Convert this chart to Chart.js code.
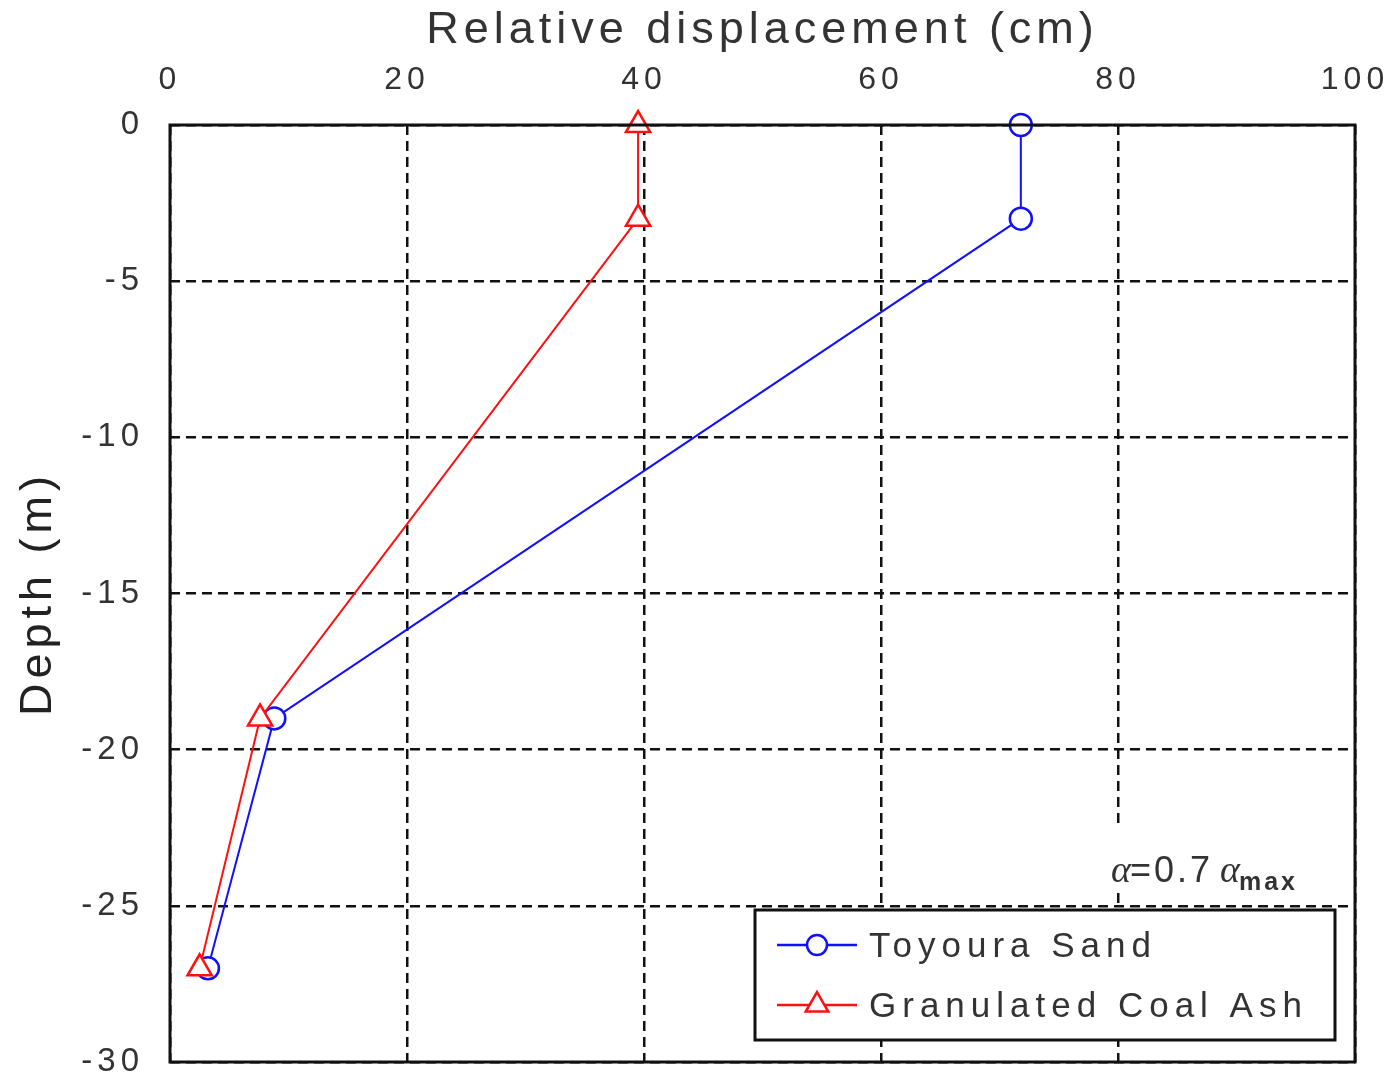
<!DOCTYPE html>
<html>
<head>
<meta charset="utf-8">
<script src="https://cdn.jsdelivr.net/npm/chart.js@4.4.1/dist/chart.umd.min.js"></script>
<style>
  html, body { margin: 0; padding: 0; background: #fff; }
  #chart { display: block; }
</style>
</head>
<body>
<canvas id="chart" width="1387" height="1084"></canvas>
<script>
// depth (m) of each measuring point
const depths = [0, -3, -19, -27];
// relative displacement (cm)
const toyouraSand = [71.8, 71.8, 8.8, 3.2];
const coalAsh = [39.5, 39.5, 7.6, 2.5];

const xTicks = [0, 20, 40, 60, 80, 100];
const yTicks = [0, -5, -10, -15, -20, -25, -30];

const toPoints = (xs) => xs.map((x, i) => ({ x: x, y: depths[i] }));

const seriesStyle = [
  { label: 'Toyoura Sand', color: '#1010ff', pointStyle: 'circle', radius: 11 },
  { label: 'Granulated Coal Ash', color: '#ff1010', pointStyle: 'triangle', radius: 14 }
];

// draws the frame, the alpha note and the boxed legend
const framePlugin = {
  id: 'frame',
  beforeDraw(chart) {
    chart.ctx.letterSpacing = '5px';
  },
  afterDraw(chart) {
    const ctx = chart.ctx;
    const a = chart.chartArea;
    ctx.save();

    // alpha note
    ctx.letterSpacing = '3px';
    ctx.fillStyle = '#fff';
    ctx.fillRect(a.right - 250, a.bottom - 235, 240, 60);
    ctx.fillStyle = '#333';
    ctx.textBaseline = 'alphabetic';
    ctx.textAlign = 'left';
    let tx = a.right - 244;
    const ty = a.bottom - 180;
    ctx.font = 'italic 38px "Liberation Serif"';
    ctx.fillText('α', tx, ty);
    tx += ctx.measureText('α').width - 4;
    ctx.font = '36px "Liberation Sans"';
    ctx.fillText('=0.7 ', tx, ty);
    tx += ctx.measureText('=0.7 ').width - 6;
    ctx.font = 'italic 38px "Liberation Serif"';
    ctx.fillText('α', tx, ty);
    tx += ctx.measureText('α').width - 4;
    ctx.font = 'bold 25px "Liberation Sans"';
    ctx.letterSpacing = '3px';
    ctx.fillText('max', tx, ty + 8);

    // legend box
    const lx = a.left + 585, ly = a.bottom - 152, lw = 580, lh = 130;
    ctx.fillStyle = '#fff';
    ctx.fillRect(lx, ly, lw, lh);
    ctx.lineWidth = 3;
    ctx.strokeStyle = '#111';
    ctx.setLineDash([]);
    ctx.strokeRect(lx, ly, lw, lh);

    ctx.letterSpacing = '6px';
    ctx.font = '35px "Liberation Sans"';
    ctx.textBaseline = 'middle';
    seriesStyle.forEach((s, i) => {
      const y = ly + 35 + i * 60;
      ctx.strokeStyle = s.color;
      ctx.lineWidth = 2.5;
      ctx.beginPath();
      ctx.moveTo(lx + 22, y);
      ctx.lineTo(lx + 102, y);
      ctx.stroke();
      ctx.fillStyle = '#fff';
      ctx.lineWidth = 2.5;
      Chart.helpers.drawPoint(ctx, { pointStyle: s.pointStyle, radius: s.radius - 1, rotation: 0, borderWidth: 2.5 }, lx + 62, y);
      ctx.fillStyle = '#333';
      ctx.fillText(s.label, lx + 114, y + 2);
    });

    // plot frame
    ctx.strokeStyle = '#111';
    ctx.lineWidth = 3;
    ctx.strokeRect(a.left, a.top, a.right - a.left, a.bottom - a.top);
    ctx.restore();
  }
};

new Chart(document.getElementById('chart'), {
  type: 'scatter',
  data: {
    datasets: [
      {
        label: seriesStyle[0].label,
        data: toPoints(toyouraSand),
        showLine: true,
        borderColor: seriesStyle[0].color,
        backgroundColor: '#fff',
        borderWidth: 2,
        pointStyle: seriesStyle[0].pointStyle,
        pointRadius: seriesStyle[0].radius,
        pointBorderWidth: 2.5,
        pointBackgroundColor: '#fff',
        clip: false,
        order: 2
      },
      {
        label: seriesStyle[1].label,
        data: toPoints(coalAsh),
        showLine: true,
        borderColor: seriesStyle[1].color,
        backgroundColor: '#fff',
        borderWidth: 2,
        pointStyle: seriesStyle[1].pointStyle,
        pointRadius: seriesStyle[1].radius,
        pointBorderWidth: 2.5,
        pointBackgroundColor: '#fff',
        clip: false,
        order: 1
      }
    ]
  },
  options: {
    responsive: false,
    animation: false,
    layout: { padding: { left: 0, top: 0, right: 32, bottom: 22 } },
    plugins: {
      legend: { display: false },
      tooltip: { enabled: false }
    },
    scales: {
      x: {
        type: 'linear',
        position: 'top',
        min: 0,
        max: 100,
        afterBuildTicks: (scale) => { scale.ticks = xTicks.map(v => ({ value: v })); },
        afterFit: (scale) => {
          scale.height = 125;
          scale.paddingLeft = 0;
          scale.paddingRight = 0;
        },
        ticks: {
          padding: 26,
          color: '#333',
          font: { family: '"Liberation Sans"', size: 32 },
          maxRotation: 0
        },
        grid: {
          color: '#111',
          lineWidth: 2.5,
          drawTicks: false
        },
        border: { display: false, dash: [10, 6] },
        title: {
          display: true,
          text: 'Relative displacement (cm)',
          color: '#333',
          font: { family: '"Liberation Sans"', size: 45 },
          padding: { top: 4, bottom: 0 }
        }
      },
      y: {
        type: 'linear',
        min: -30,
        max: 0,
        afterBuildTicks: (scale) => { scale.ticks = yTicks.map(v => ({ value: v })); },
        afterFit: (scale) => {
          scale.width = 170;
          scale.paddingTop = 0;
          scale.paddingBottom = 0;
        },
        ticks: {
          padding: 26,
          color: '#333',
          font: { family: '"Liberation Sans"', size: 33 }
        },
        grid: {
          color: '#111',
          lineWidth: 2.5,
          drawTicks: false
        },
        border: { display: false, dash: [10, 6] },
        title: {
          display: true,
          text: 'Depth (m)',
          color: '#222',
          font: { family: '"Liberation Sans"', size: 45 },
          padding: { top: 12, bottom: 0 }
        }
      }
    }
  },
  plugins: [framePlugin]
});
</script>
</body>
</html>
